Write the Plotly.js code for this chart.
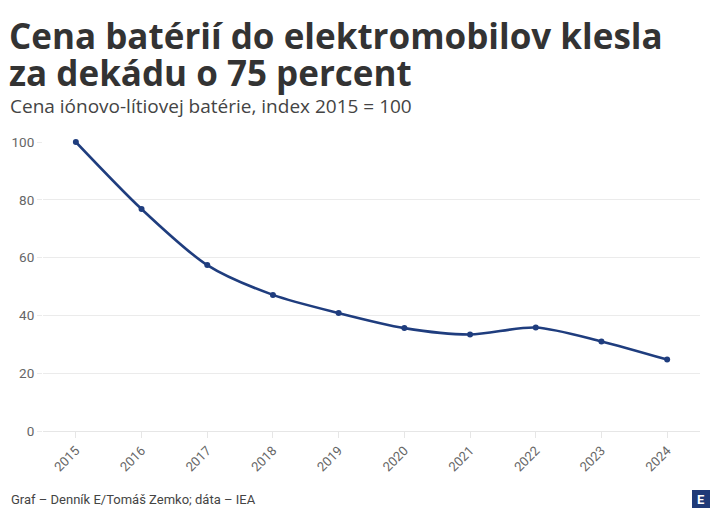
<!DOCTYPE html>
<html>
<head>
<meta charset="utf-8">
<script src="https://cdn.plot.ly/plotly-3.0.1.min.js"></script>
<style>html,body{margin:0;padding:0;background:#fff;}#chart{width:720px;height:521px;}</style>
</head>
<body>
<div id="chart"></div>
<script>
const years = ['2015','2016','2017','2018','2019','2020','2021','2022','2023','2024'];
const priceIndex = [100, 76.8, 57.4, 47.1, 40.8, 35.6, 33.4, 35.8, 31.0, 24.7];
const yTicks = [0, 20, 40, 60, 80, 100];

const titleLine1 = 'Cena batérií do elektromobilov klesla';
const titleLine2 = 'za dekádu o 75 percent';
const subtitleText = 'Cena iónovo-lítiovej batérie, index 2015 = 100';
const footerText = 'Graf – Denník E/Tomáš Zemko; dáta – IEA';

const W = 720, H = 521;
const mL = 43, mR = 20, mT = 142, mB = 90;
const pw = W - mL - mR, ph = H - mT - mB;
const px = x => (x - mL) / pw;
const py = y => (H - mB - y) / ph;

const trace = {
  x: years, y: priceIndex, type: 'scatter', mode: 'lines+markers',
  line: {color: '#1f3d7e', width: 2.6, shape: 'spline', smoothing: 0.8},
  marker: {color: '#1f3d7e', size: 6},
  cliponaxis: false, hoverinfo: 'skip'
};

const titleFont = {family: '"Open Sans", sans-serif', size: 35, color: '#333', weight: 700};

const layout = {
  width: W, height: H,
  margin: {l: mL, r: mR, t: mT, b: mB},
  paper_bgcolor: '#fff', plot_bgcolor: '#fff',
  font: {family: 'Roboto, "Open Sans", sans-serif', color: '#555'},
  showlegend: false,
  xaxis: {
    type: 'category', range: [-0.5, 9.5], fixedrange: true,
    showgrid: false, showline: true, linecolor: '#e6e6e6', linewidth: 1,
    ticks: 'outside', ticklen: 6, tickcolor: '#e6e6e6',
    tickangle: -45, tickfont: {size: 13, color: '#666'}
  },
  yaxis: {
    range: [0, 100], tickvals: yTicks, fixedrange: true,
    showgrid: true, gridcolor: '#ebebeb', gridwidth: 1,
    zeroline: false, showline: false,
    ticks: 'outside', ticklen: 5, tickcolor: '#ebebeb',
    tickfont: {size: 13.5, color: '#666'}
  },
  shapes: [{
    type: 'rect', xref: 'paper', yref: 'paper',
    x0: px(692), x1: px(710), y0: py(508), y1: py(490),
    fillcolor: '#1f3a78', line: {width: 0}
  }],
  annotations: [
    {text: titleLine1, xref: 'paper', yref: 'paper', x: px(7), y: py(35),
     xanchor: 'left', yanchor: 'middle', showarrow: false, font: titleFont},
    {text: titleLine2, xref: 'paper', yref: 'paper', x: px(7), y: py(73),
     xanchor: 'left', yanchor: 'middle', showarrow: false, font: titleFont},
    {text: subtitleText, xref: 'paper', yref: 'paper', x: px(8), y: py(106),
     xanchor: 'left', yanchor: 'middle', showarrow: false,
     font: {family: '"Open Sans", sans-serif', size: 19, color: '#444'}},
    {text: footerText, xref: 'paper', yref: 'paper', x: px(9), y: py(499),
     xanchor: 'left', yanchor: 'middle', showarrow: false,
     font: {size: 13, color: '#444'}},
    {text: '<b>E</b>', xref: 'paper', yref: 'paper', x: px(701), y: py(499),
     xanchor: 'center', yanchor: 'middle', showarrow: false,
     font: {size: 13, color: '#fff'}}
  ]
};

Plotly.newPlot('chart', [trace], layout, {displayModeBar: false, staticPlot: true});
</script>
</body>
</html>
